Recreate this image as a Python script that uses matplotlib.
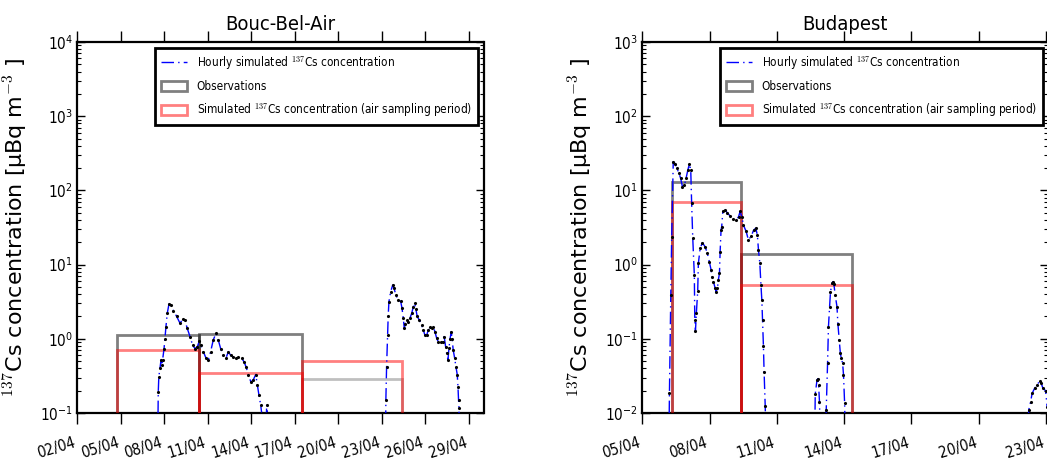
import matplotlib
matplotlib.use('Agg')
import matplotlib.pyplot as plt
import matplotlib.dates as mdates
from matplotlib.lines import Line2D
from matplotlib.ticker import LogLocator, NullFormatter
from datetime import datetime, timedelta
import numpy as np

plt.rcParams['font.family'] = ['DejaVu Sans']
plt.rcParams['font.stretch'] = 'condensed'
plt.rcParams['mathtext.fontset'] = 'cm'

# ---- Bouc-Bel-Air (day of April 2011, uBq/m3) ----
bba_t = [7.55, 7.58, 7.62, 7.70, 7.77, 7.82, 7.88, 7.98, 8.04, 8.11, 8.20, 8.32, 8.44, 8.62,
         8.85, 9.08, 9.26, 9.42, 9.58, 9.77, 9.95, 10.11, 10.27, 10.41, 10.53, 10.69, 10.87,
         11.03, 11.19, 11.37, 11.56, 11.72, 11.88, 12.06, 12.25, 12.41, 12.57, 12.75, 12.94,
         13.10, 13.33, 13.49, 13.63, 13.79, 13.97, 14.13, 14.30, 14.41, 14.52, 14.64, 14.71,
         14.76, 15.02, 15.05, 15.09, 15.12,
         23.25, 23.27, 23.32, 23.39, 23.43, 23.48, 23.60, 23.74, 23.83, 23.96, 24.12, 24.29,
         24.38, 24.47, 24.54, 24.61, 24.70, 24.81, 24.93, 25.05, 25.16, 25.25, 25.34, 25.43,
         25.57, 25.74, 25.85, 25.96, 26.08, 26.19, 26.31, 26.42, 26.53, 26.65, 26.77, 26.88,
         27.04, 27.18, 27.29, 27.39, 27.46, 27.55, 27.62, 27.69, 27.78, 27.84, 27.91, 28.01,
         28.10, 28.19, 28.24, 28.28, 28.31, 28.33]
bba_c = [0.05, 0.19, 0.31, 0.40, 0.52, 0.44, 0.52, 0.74, 1.0, 1.45, 2.2, 2.94, 2.85, 2.4,
         2.0, 1.62, 1.83, 1.78, 1.38, 1.07, 0.82, 0.74, 0.78, 0.93, 0.82, 0.67, 0.55,
         0.52, 0.67, 0.96, 1.19, 0.96, 0.74, 0.61, 0.55, 0.67, 0.60, 0.57, 0.55,
         0.56, 0.55, 0.49, 0.42, 0.33, 0.26, 0.28, 0.33, 0.24, 0.175, 0.128, 0.10,
         0.06, 0.05, 0.13, 0.10, 0.05,
         0.05, 0.15, 0.42, 1.13, 2.0, 3.16, 4.3, 5.3, 4.8, 3.9, 3.3, 3.2,
         2.6, 1.9, 1.38, 1.6, 1.79, 1.7, 1.9, 2.2, 2.7, 3.0, 2.5, 2.0,
         1.8, 1.53, 1.32, 1.12, 1.12, 1.3, 1.46, 1.4, 1.46, 1.25, 1.02, 0.91,
         0.91, 0.91, 1.07, 0.78, 0.64, 0.52, 0.75, 0.99, 1.25, 0.99, 0.71, 0.55,
         0.42, 0.33, 0.226, 0.15, 0.117, 0.05]
bba_start = [4.72, 10.39, 17.47]
bba_end = [10.39, 17.47, 24.36]
bba_obs = [1.14, 1.15, 0.29]
bba_obs_alpha = [0.5, 0.5, 0.25]
bba_sim = [0.71, 0.35, 0.50]

# ---- Budapest ----
bud_t = [6.19, 6.21, 6.27, 6.31, 6.38, 6.46, 6.54, 6.64, 6.71, 6.79, 6.88, 6.95, 7.03, 7.10,
         7.16, 7.20, 7.25, 7.32, 7.34, 7.37, 7.41, 7.47, 7.50, 7.58, 7.68, 7.80, 7.90, 7.99,
         8.07, 8.11, 8.17, 8.25, 8.29, 8.35, 8.39, 8.44, 8.47, 8.51, 8.54, 8.59, 8.69, 8.79,
         8.92, 9.06, 9.18, 9.29, 9.36, 9.44, 9.51, 9.63, 9.73, 9.85, 9.96, 10.06, 10.13,
         10.18, 10.24, 10.29, 10.33, 10.36, 10.40, 10.43, 10.48, 10.51,
         12.69, 12.71, 12.79, 12.83, 12.86, 12.90, 12.93, 13.17, 13.20, 13.26, 13.30, 13.35,
         13.39, 13.46, 13.50, 13.54, 13.60, 13.68, 13.72, 13.78, 13.83, 13.87, 13.93, 13.97,
         14.02, 14.05,
         22.20, 22.23, 22.31, 22.38, 22.49, 22.61, 22.71, 22.79, 22.86, 22.98, 23.05]
bud_c = [0.005, 0.0184, 0.39, 2.33, 24.4, 23.0, 19.8, 17.0, 14.5, 11.2, 11.8, 14.5, 18.8, 22.7,
         18.8, 6.7, 2.26, 0.72, 0.18, 0.127, 0.22, 0.44, 1.04, 1.66, 1.97, 1.74, 1.42, 1.09,
         0.84, 0.69, 0.59, 0.48, 0.43, 0.48, 0.62, 0.76, 1.49, 2.9, 3.24, 5.2, 5.4, 5.0,
         4.5, 4.07, 4.0, 4.4, 5.2, 4.4, 3.4, 2.8, 2.15, 2.4, 2.9, 3.1, 2.5,
         1.57, 1.04, 0.53, 0.33, 0.18, 0.080, 0.036, 0.0124, 0.005,
         0.005, 0.018, 0.028, 0.029, 0.024, 0.014, 0.005, 0.005, 0.011, 0.047, 0.146, 0.27,
         0.43, 0.56, 0.59, 0.55, 0.39, 0.27, 0.16, 0.096, 0.064, 0.055, 0.047, 0.033,
         0.0135, 0.005,
         0.005, 0.011, 0.014, 0.0184, 0.0215, 0.024, 0.027, 0.025, 0.0215, 0.020, 0.012]
bud_start = [6.32, 9.41]
bud_end = [9.41, 14.35]
bud_obs = [12.9, 1.39]
bud_obs_alpha = [0.5, 0.5]
bud_sim = [6.98, 0.53]


def april(days):
    return np.array([mdates.date2num(datetime(2011, 4, 1) + timedelta(days=d - 1)) for d in days])


fig = plt.figure(figsize=(10.47, 4.66), dpi=100)

ylab = r'$^{137}$Cs concentration [µBq m$^{-3}$ ]'
line_dash = (9, 3, 1, 3)


def panel(rect, title, t, c, start, end, obs, obs_alpha, sim, ylim, xlim, ticks):
    ax = fig.add_axes(rect)
    ax.set_yscale('log')
    x0 = april(start)
    w = april(end) - x0
    ax.bar(x0, np.array(obs) - 1e-6, width=w, bottom=1e-6, align='edge', fill=False,
           edgecolor=[(0, 0, 0, a) for a in obs_alpha], linewidth=2, zorder=2)
    ax.bar(x0, np.array(sim) - 1e-6, width=w, bottom=1e-6, align='edge', fill=False,
           edgecolor=(1, 0, 0, 0.5), linewidth=2, zorder=3)
    ax.plot(april(t), c, color='b', dashes=line_dash, lw=1, marker='.', ms=2.5,
            mec='k', mfc='k', zorder=4)

    ax.set_ylim(*ylim)
    ax.set_xlim(april(xlim))
    ax.xaxis.set_major_locator(mdates.DayLocator(bymonthday=ticks))
    ax.xaxis.set_major_formatter(mdates.DateFormatter('%d/%m'))
    ax.yaxis.set_major_locator(LogLocator(base=10, numticks=10))
    ax.yaxis.set_minor_locator(LogLocator(base=10, subs=np.arange(2, 10), numticks=10))
    ax.yaxis.set_minor_formatter(NullFormatter())

    ax.tick_params(axis='x', which='major', direction='out', length=8, width=1,
                   top=True, bottom=True, pad=8, labelsize=11)
    ax.tick_params(axis='y', which='major', direction='in', length=6, width=1,
                   left=True, right=True, pad=3, labelsize=11)
    ax.tick_params(axis='y', which='minor', direction='in', length=3, width=0.8,
                   left=True, right=True)
    for lbl in ax.get_xticklabels():
        lbl.set_rotation(17)
        lbl.set_ha('right')
    for sp in ax.spines.values():
        sp.set_linewidth(1.6)

    ax.set_title(title, fontsize=14.5, y=1.0, pad=9)
    ax.set_ylabel(ylab, fontsize=16, fontstretch='normal')
    ax.yaxis.set_label_coords(-0.116, 0.5)

    handles = [Line2D([], [], color='b', dashes=line_dash, lw=1),
               plt.Rectangle((0, 0), 1, 1, fill=False, edgecolor=(0, 0, 0, 0.5), lw=2),
               plt.Rectangle((0, 0), 1, 1, fill=False, edgecolor=(1, 0, 0, 0.5), lw=2)]
    labels = [r'Hourly simulated $^{137}$Cs concentration', 'Observations',
              r'Simulated $^{137}$Cs concentration (air sampling period)']
    leg = ax.legend(handles, labels, loc='upper right', fontsize=8.5, fancybox=False,
                    edgecolor='k', framealpha=1, borderpad=0.5, labelspacing=0.7,
                    handlelength=2.2, handleheight=0.9, handletextpad=0.8,
                    borderaxespad=0.5)
    leg.get_frame().set_linewidth(2)
    return ax


panel([77.3 / 1047, 53 / 466, 406.2 / 1047, 371 / 466], 'Bouc-Bel-Air',
      bba_t, bba_c, bba_start, bba_end, bba_obs, bba_obs_alpha, bba_sim,
      (0.1, 1e4), [2, 30], [2, 5, 8, 11, 14, 17, 20, 23, 26, 29])
panel([642.3 / 1047, 53 / 466, 406.2 / 1047, 371 / 466], 'Budapest',
      bud_t, bud_c, bud_start, bud_end, bud_obs, bud_obs_alpha, bud_sim,
      (0.01, 1e3), [5, 23.11], [5, 8, 11, 14, 17, 20, 23])

fig.savefig('out.png', dpi=100)
